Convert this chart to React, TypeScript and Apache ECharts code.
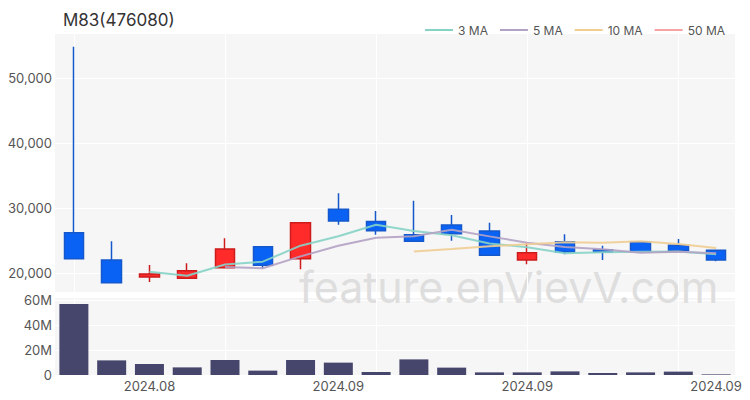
import React, { useEffect, useRef } from "react";
import * as echarts from "echarts";

const dates = [
  "2024.07.25", "2024.07.30", "2024.08.05", "2024.08.12", "2024.08.19", "2024.08.26",
  "2024.08.30", "2024.09.02", "2024.09.04", "2024.09.06", "2024.09.09", "2024.09.11",
  "2024.09.13", "2024.09.19", "2024.09.23", "2024.09.25", "2024.09.27", "2024.09.30",
];
const tickLabels = [
  "", "", "2024.08", "", "", "", "", "2024.09", "", "", "", "", "2024.09", "", "", "", "", "2024.09",
];
const gridIdx = [0, 4, 8, 12, 16];

const opens = [26200, 22000, 19400, 19200, 20800, 24050, 22200, 29800, 27900, 25900, 27380, 26460, 22000, 24820, 23580, 24820, 24260, 23490];
const closes = [22200, 18500, 19850, 20350, 23690, 21180, 27740, 28000, 26510, 24880, 26050, 22720, 23120, 23230, 23230, 23280, 23430, 22000];
const lows = [22200, 18500, 18600, 19100, 20800, 20720, 20570, 27430, 25900, 24800, 24970, 22700, 21340, 22880, 22000, 23080, 23300, 21800];
const highs = [54800, 24900, 21230, 21490, 25340, 24050, 27740, 32260, 29540, 31120, 28920, 27740, 24570, 25950, 24200, 24820, 25230, 23490];
const volumes = [56.8e6, 11.7e6, 8.8e6, 6.1e6, 12.0e6, 3.5e6, 12.0e6, 9.9e6, 2.4e6, 12.5e6, 5.9e6, 2.1e6, 2.1e6, 2.9e6, 1.6e6, 2.1e6, 2.7e6, 0.5e6];

const ma3 = ["-", "-", 20180, 19570, 21300, 21740, 24200, 25640, 27420, 26460, 25810, 24550, 23960, 23030, 23190, 23250, 23310, 22900];
const ma5 = ["-", "-", "-", "-", 20920, 20720, 22560, 24190, 25420, 25660, 26640, 25630, 24660, 24000, 23670, 23120, 23260, 23030];
const ma10 = ["-", "-", "-", "-", "-", "-", "-", "-", "-", 23290, 23680, 24100, 24420, 24710, 24670, 24880, 24450, 23850];
const ma50: (number | string)[] = dates.map(() => "-");

const legendNames = ["3 MA", "5 MA", "10 MA", "50 MA"];
const maColors = ["#86d3c6", "#b3a2c4", "#f0cd92", "#f7a3a3"];

export default function App() {
  const ref = useRef<HTMLDivElement>(null);
  useEffect(() => {
    document.body.style.margin = "0";
    if (!ref.current) return;
    const chart = echarts.init(ref.current, null, { renderer: "svg" });
    const vLines = (seriesZ: number) => ({
      silent: true,
      symbol: ["none", "none"],
      label: { show: false },
      emphasis: { disabled: true },
      lineStyle: { color: "#ffffff", width: 1, type: "solid" },
      z: seriesZ,
      data: gridIdx.map((i) => ({ xAxis: dates[i] })),
    });
    const maSeries = [ma3, ma5, ma10, ma50].map((d, k) => ({
      name: legendNames[k],
      type: "line",
      xAxisIndex: 0,
      yAxisIndex: 0,
      data: d,
      symbol: "none",
      showSymbol: false,
      z: 3,
      color: maColors[k],
      lineStyle: { color: maColors[k], width: 2, opacity: 0.9 },
      itemStyle: { color: maColors[k] },
    }));
    chart.setOption({
      animation: false,
      textStyle: { fontFamily: "Inter" },
      title: {
        text: "M83(476080)",
        left: 63,
        top: 11,
        padding: 0,
        textStyle: { fontSize: 17, fontWeight: "normal", color: "#333", fontFamily: "Inter" },
      },
      legend: {
        right: 20,
        top: 19,
        itemWidth: 28,
        itemHeight: 2,
        itemGap: 12,
        icon: "rect",
        data: legendNames,
        textStyle: { fontSize: 12, color: "#555" },
      },
      graphic: [
        {
          type: "text",
          left: 299,
          top: 265,
          z: 1,
          silent: true,
          style: {
            text: "feature.enVievV.com",
            fontSize: 43,
            fontFamily: "Inter",
            fill: "#dedede",
          },
        },
      ],
      grid: [
        { left: 55, right: 15, top: 33, height: 259, show: true, backgroundColor: "#f6f6f6", borderWidth: 0 },
        { left: 55, right: 15, top: 297, bottom: 25, show: true, backgroundColor: "#f6f6f6", borderWidth: 0 },
      ],
      xAxis: [
        {
          type: "category",
          gridIndex: 0,
          data: dates,
          boundaryGap: true,
          axisLine: { show: false },
          axisTick: { show: false },
          axisLabel: { show: false },
          splitLine: { show: false },
        },
        {
          type: "category",
          gridIndex: 1,
          data: dates,
          boundaryGap: true,
          axisLine: { show: false },
          axisTick: { show: false },
          axisLabel: {
            interval: 0,
            margin: 4,
            fontSize: 13,
            color: "#555",
            formatter: (_v: string, i: number) => tickLabels[i],
          },
          splitLine: { show: false },
        },
      ],
      yAxis: [
        {
          type: "value",
          gridIndex: 0,
          min: 17080,
          max: 56900,
          splitNumber: 4,
          axisLine: { show: false },
          axisTick: { show: false },
          axisLabel: {
            showMinLabel: false,
            showMaxLabel: false,
            margin: 3,
            fontSize: 13,
            color: "#555",
            formatter: (v: number) => v.toLocaleString("en-US"),
          },
          splitLine: { show: true, lineStyle: { color: "#ffffff", width: 1 } },
        },
        {
          type: "value",
          gridIndex: 1,
          min: 0,
          max: 62400000,
          interval: 20000000,
          axisLine: { show: false },
          axisTick: { show: false },
          axisLabel: {
            showMaxLabel: false,
            margin: 3,
            fontSize: 13,
            color: "#555",
            formatter: (v: number) => (v === 0 ? "0" : v / 1e6 + "M"),
          },
          splitLine: { show: true, lineStyle: { color: "#ffffff", width: 1 } },
        },
      ],
      series: [
        {
          type: "candlestick",
          xAxisIndex: 0,
          yAxisIndex: 0,
          barWidth: 20,
          z: 2,
          data: dates.map((_, i) => [opens[i], closes[i], lows[i], highs[i]]),
          itemStyle: {
            color: "#ff2b2b",
            color0: "#0a62f4",
            borderColor: "#cc1c1c",
            borderColor0: "#1558cc",
            borderWidth: 1.5,
          },
          markLine: vLines(1),
        },
        ...maSeries,
        {
          type: "bar",
          xAxisIndex: 1,
          yAxisIndex: 1,
          barWidth: 29,
          z: 2,
          data: volumes,
          itemStyle: { color: "#46466c" },
          markLine: vLines(1),
        },
      ],
    });
    return () => chart.dispose();
  }, []);
  return <div ref={ref} style={{ width: 750, height: 400 }} />;
}
